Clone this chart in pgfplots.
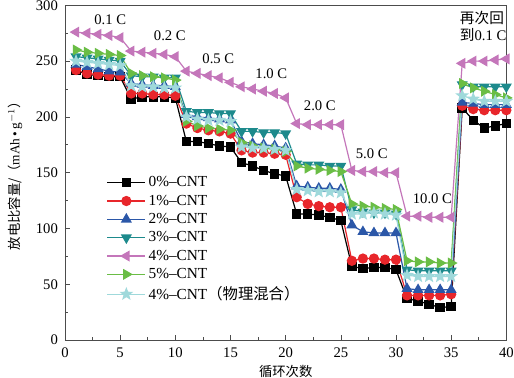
\documentclass[border=0pt]{standalone}
\usepackage{fontspec}
\setmainfont{Liberation Serif}
\newfontfamily\cjk{Noto Sans CJK SC}
\usepackage{pgfplots}
\pgfplotsset{compat=1.18}
\definecolor{cred}{HTML}{E8262B}
\definecolor{cblue}{HTML}{2B57A8}
\definecolor{cteal}{HTML}{1D8A8C}
\definecolor{cpink}{HTML}{C476BA}
\definecolor{cgreen}{HTML}{6ABD45}
\definecolor{ccyan}{HTML}{9FD9DB}
\pgfdeclareplotmark{fstar}{%
  \pgfpathmoveto{\pgfpointpolar{90}{\pgfplotmarksize}}%
  \pgfpathlineto{\pgfpointpolar{126}{0.42\pgfplotmarksize}}%
  \pgfpathlineto{\pgfpointpolar{162}{\pgfplotmarksize}}%
  \pgfpathlineto{\pgfpointpolar{198}{0.42\pgfplotmarksize}}%
  \pgfpathlineto{\pgfpointpolar{234}{\pgfplotmarksize}}%
  \pgfpathlineto{\pgfpointpolar{270}{0.42\pgfplotmarksize}}%
  \pgfpathlineto{\pgfpointpolar{306}{\pgfplotmarksize}}%
  \pgfpathlineto{\pgfpointpolar{342}{0.42\pgfplotmarksize}}%
  \pgfpathlineto{\pgfpointpolar{18}{\pgfplotmarksize}}%
  \pgfpathlineto{\pgfpointpolar{54}{0.42\pgfplotmarksize}}%
  \pgfpathclose
  \pgfusepathqfillstroke}
\begin{document}
\begin{tikzpicture}
\begin{axis}[
  width=331pt, height=251pt, scale only axis,
  xmin=0, xmax=40, ymin=0, ymax=300,
  xtick={0,5,...,40}, ytick={0,50,...,300},
  minor x tick num=1, minor y tick num=1,
  tick pos=left, tick align=inside,
  major tick length=4pt, minor tick length=2.5pt,
  axis line style={draw=black!70, line width=0.6pt},
  every tick/.style={black!70, line width=0.5pt},
  /pgf/number format/assume math mode=true,
  tick label style={font=\fontsize{11}{13}\selectfont},
  xticklabel style={yshift=-2.2pt},
  yticklabel style={xshift=-1.8pt},
  xlabel={\cjk 循环次数},
  ylabel={{\cjk 放电比容量/（}mAh\,\textbullet\,g$^{-1}${\cjk ）}},
  label style={font=\fontsize{10.5}{12}\selectfont},
  every axis x label/.style={at={(axis description cs:0.5,0)}, anchor=center, yshift=-23.5pt},
  every axis y label/.style={at={(axis description cs:-0.1133,0.5)}, anchor=center, rotate=90},
  legend cell align=left,
  legend style={at={(0.085,0.505)}, anchor=north west, draw=none, fill=none,
    font=\fontsize{11.5}{13}\selectfont, row sep=0.6pt},
  legend image code/.code={\draw[mark repeat=2,mark phase=2,#1] plot coordinates {(0cm,0cm) (0.5cm,0cm) (1.0cm,0cm)};},
  every axis plot/.append style={line width=0.9pt, mark size=3.4pt},
]
\addplot[black, mark=square*, mark size=3.1pt] coordinates {
(1,242)(2,238)(3,237)(4,236)(5,236)(6,216)(7,218)(8,218)(9,218)(10,217)
(11,178)(12,178)(13,176)(14,174)(15,173)(16,159)(17,156)(18,152)(19,149)(20,147)
(21,113)(22,113)(23,112)(24,110)(25,107)(26,66)(27,64)(28,65)(29,65)(30,63)
(31,37)(32,35)(33,32)(34,29)(35,30)(36,208)(37,197)(38,190)(39,192)(40,194)};
\addlegendentry{0\%--CNT}
\addplot[cred, mark=*] coordinates {
(1,242)(2,239)(3,238)(4,237)(5,237)(6,221)(7,221)(8,220)(9,220)(10,219)
(11,194)(12,190)(13,188)(14,187)(15,185)(16,170)(17,168)(18,168)(19,167)(20,166)
(21,128)(22,122)(23,120)(24,119)(25,119)(26,71)(27,73)(28,73)(29,72)(30,72)
(31,40)(32,40)(33,40)(34,40)(35,41)(36,210)(37,207)(38,206)(39,206)(40,206)};
\addlegendentry{1\%--CNT}
\addplot[cblue, mark=triangle*, mark size=3.9pt] coordinates {
(1,247)(2,245)(3,243)(4,241)(5,240)(6,230)(7,229)(8,228)(9,228)(10,227)
(11,202)(12,200)(13,199)(14,198)(15,197)(16,178)(17,176)(18,175)(19,174)(20,172)
(21,138)(22,137)(23,136)(24,136)(25,135)(26,103)(27,97)(28,96)(29,96)(30,96)
(31,46)(32,45)(33,45)(34,45)(35,45)(36,213)(37,212)(38,211)(39,211)(40,211)};
\addlegendentry{2\%--CNT}
\addplot[cteal, mark=triangle*, mark size=3.9pt, mark options={rotate=180}] coordinates {
(1,254)(2,253)(3,252)(4,251)(5,250)(6,237)(7,236)(8,236)(9,235)(10,235)
(11,205)(12,204)(13,204)(14,203)(15,203)(16,187)(17,187)(18,186)(19,186)(20,185)
(21,158)(22,157)(23,157)(24,156)(25,156)(26,117)(27,115)(28,114)(29,114)(30,113)
(31,63)(32,62)(33,62)(34,62)(35,62)(36,229)(37,227)(38,227)(39,227)(40,227)};
\addlegendentry{3\%--CNT}
\addplot[cpink, mark=triangle*, mark size=3.9pt, mark options={rotate=90}] coordinates {
(1,276)(2,275)(3,274)(4,273)(5,271)(6,259)(7,258)(8,257)(9,256)(10,254)
(11,241)(12,239)(13,237)(14,235)(15,231)(16,227)(17,225)(18,223)(19,221)(20,217)
(21,194)(22,193)(23,193)(24,193)(25,193)(26,152)(27,151)(28,151)(29,150)(30,150)
(31,111)(32,111)(33,110)(34,110)(35,110)(36,248)(37,250)(38,250)(39,251)(40,252)};
\addlegendentry{4\%--CNT}
\addplot[cgreen, mark=triangle*, mark size=3.9pt, mark options={rotate=-90}] coordinates {
(1,260)(2,258)(3,257)(4,256)(5,255)(6,239)(7,237)(8,236)(9,235)(10,233)
(11,196)(12,192)(13,190)(14,189)(15,188)(16,177)(17,174)(18,172)(19,171)(20,169)
(21,156)(22,154)(23,153)(24,152)(25,151)(26,122)(27,120)(28,119)(29,118)(30,117)
(31,71)(32,70)(33,70)(34,69)(35,69)(36,230)(37,226)(38,223)(39,220)(40,217)};
\addlegendentry{5\%--CNT}
\addplot[ccyan, mark=fstar, mark size=4.1pt] coordinates {
(1,250)(2,249)(3,248)(4,247)(5,246)(6,228)(7,227)(8,227)(9,226)(10,226)
(11,200)(12,198)(13,197)(14,197)(15,196)(16,173)(17,172)(18,172)(19,171)(20,170)
(21,135)(22,134)(23,133)(24,133)(25,132)(26,113)(27,113)(28,114)(29,113)(30,112)
(31,58)(32,57)(33,57)(34,57)(35,57)(36,219)(37,216)(38,214)(39,214)(40,214)};
\addlegendentry{4\%--CNT{\cjk （物理混合）}}
\begin{scope}[every node/.style={font=\fontsize{11}{13}\selectfont}]
\node at (axis cs:4.1,287) {0.1 C};
\node at (axis cs:9.5,273) {0.2 C};
\node at (axis cs:13.9,252) {0.5 C};
\node at (axis cs:18.7,239) {1.0 C};
\node at (axis cs:23.1,210) {2.0 C};
\node at (axis cs:27.8,167) {5.0 C};
\node at (axis cs:33.3,127) {10.0 C};
\node[align=left] at (axis cs:37.9,281) {{\cjk 再次回}\\{\cjk 到}0.1 C};
\end{scope}
\end{axis}
\pgfresetboundingbox
\path[use as bounding box] ([shift={(-48.75pt,-28.5pt)}]current axis.south west) rectangle ([shift={(5.75pt,4pt)}]current axis.north east);
\end{tikzpicture}
\end{document}
